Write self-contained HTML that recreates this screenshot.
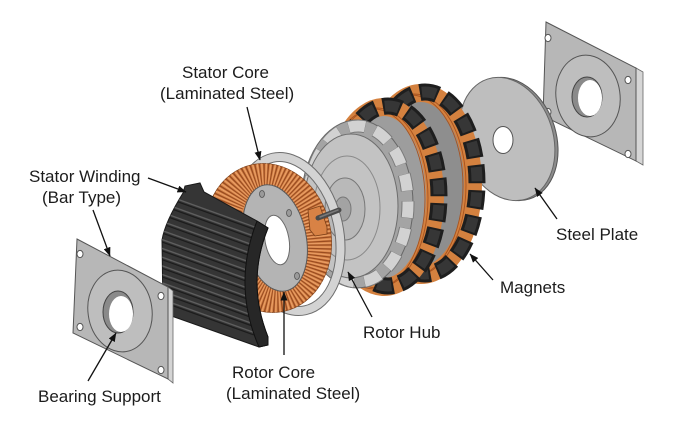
<!DOCTYPE html>
<html><head><meta charset="utf-8"><style>
html,body{margin:0;padding:0;background:#fff;}
svg{display:block;}
text{font-family:"Liberation Sans",Arial,sans-serif;font-size:17px;fill:#1c1c1c;}
</style></head><body>
<svg width="700" height="434" viewBox="0 0 700 434" xmlns="http://www.w3.org/2000/svg">
<defs>
<marker id="ah" markerWidth="9" markerHeight="7" refX="8.5" refY="3.5" orient="auto" markerUnits="userSpaceOnUse"><path d="M0,0 L9,3.5 L0,7 z" fill="#111"/></marker>
<clipPath id="cuclip"><ellipse cx="0" cy="0" rx="63" ry="75" transform="translate(268,238) rotate(-12)"/></clipPath>
<clipPath id="bclip"><path d="M183,193 L185,186 L200,183 L204,192 L257,221 L268,228 Q246,282 268,337 L268,345 L259,347 L163,313 L162,240 Q165,222 183,193 Z"/></clipPath>
</defs>
<rect width="700" height="434" fill="#fff"/>

<!-- right steel plate -->
<polygon points="546,22 636,68 643,72 643,165 636,161 543,116" fill="#8f8f8f"/>
<polygon points="636,68 643,72 643,165 636,161" fill="#d6d6d6" stroke="#666" stroke-width="0.8"/>
<polygon points="546,22 636,68 636,161 543,116" fill="#b7b7b7" stroke="#555" stroke-width="1"/>
<ellipse cx="588" cy="96" rx="32" ry="41" transform="rotate(-8 588 96)" fill="#bebebe" stroke="#555"/>
<ellipse cx="587" cy="97" rx="15" ry="20" fill="#8a8a8a" stroke="#444"/>
<ellipse cx="590" cy="98" rx="12" ry="18" fill="#fff"/>
<ellipse cx="548" cy="38" rx="3" ry="3.6" fill="#fff" stroke="#555"/>
<ellipse cx="628" cy="80" rx="3" ry="3.6" fill="#fff" stroke="#555"/>
<ellipse cx="548" cy="112" rx="3" ry="3.6" fill="#fff" stroke="#555"/>
<ellipse cx="628" cy="154" rx="3" ry="3.6" fill="#fff" stroke="#555"/>

<!-- thin steel disc -->
<g transform="translate(507,139) rotate(-18)">
<ellipse cx="3" cy="1" rx="46" ry="63" fill="#8c8c8c" stroke="#555"/>
<ellipse rx="46" ry="63" fill="#bebebe" stroke="#666"/>
</g>
<ellipse cx="503" cy="140" rx="10" ry="13.5" fill="#fff" stroke="#555"/>

<!-- rotor ring B -->
<ellipse cx="425" cy="183" rx="52" ry="91" fill="#8e8e8e" stroke="#555" stroke-width="0.8"/>
<ellipse cx="421" cy="184" rx="52" ry="91" fill="none" stroke="#d4813f" stroke-width="18"/>
<ellipse cx="414" cy="185" rx="52" ry="91" fill="none" stroke="#a8531f" stroke-width="0.9"/>
<ellipse cx="411" cy="186" rx="52" ry="91" fill="none" stroke="#a8531f" stroke-width="0.9"/>
<path d="M-52,0 A52,91 0 1,0 52,0 A52,91 0 1,0 -52,0" transform="translate(425,183)" pathLength="90" fill="none" stroke="#1e1e1e" stroke-width="17" stroke-dasharray="3.6 1.4"/>
<path d="M-52,0 A52,91 0 1,0 52,0 A52,91 0 1,0 -52,0" transform="translate(425,183)" pathLength="90" fill="none" stroke="#363636" stroke-width="11" stroke-dasharray="2.8 2.2" stroke-dashoffset="-0.4"/>

<!-- rotor ring A -->
<ellipse cx="388" cy="196" rx="51" ry="90" fill="#9d9d9d" stroke="#555" stroke-width="0.8"/>
<ellipse cx="384" cy="197" rx="51" ry="90" fill="none" stroke="#d4813f" stroke-width="18"/>
<ellipse cx="377" cy="198" rx="51" ry="90" fill="none" stroke="#a8531f" stroke-width="0.9"/>
<ellipse cx="374" cy="199" rx="51" ry="90" fill="none" stroke="#a8531f" stroke-width="0.9"/>
<path d="M-51,0 A51,90 0 1,0 51,0 A51,90 0 1,0 -51,0" transform="translate(388,196)" pathLength="90" fill="none" stroke="#1e1e1e" stroke-width="17" stroke-dasharray="3.6 1.4"/>
<path d="M-51,0 A51,90 0 1,0 51,0 A51,90 0 1,0 -51,0" transform="translate(388,196)" pathLength="90" fill="none" stroke="#363636" stroke-width="11" stroke-dasharray="2.8 2.2" stroke-dashoffset="-0.4"/>

<!-- front cylinder with light blocks -->
<ellipse cx="357" cy="204" rx="56" ry="84" fill="#a4a4a4" stroke="#666"/>
<path d="M-50,0 A50,78 0 1,0 50,0 A50,78 0 1,0 -50,0" transform="translate(358,204)" pathLength="75" fill="none" stroke="#7a7a7a" stroke-width="13" stroke-dasharray="3.1 1.9" stroke-dashoffset="0.05"/>
<path d="M-50,0 A50,78 0 1,0 50,0 A50,78 0 1,0 -50,0" transform="translate(358,204)" pathLength="75" fill="none" stroke="#d2d2d2" stroke-width="11" stroke-dasharray="3 2"/>
<!-- front disc -->
<ellipse cx="351" cy="206" rx="47" ry="72" fill="#c3c3c3" stroke="#6d6d6d"/>
<ellipse cx="347" cy="208" rx="33" ry="52" fill="none" stroke="#8a8a8a"/>
<ellipse cx="345" cy="209" rx="20" ry="31" fill="#b9b9b9" stroke="#777"/>
<ellipse cx="343" cy="209" rx="8" ry="12" fill="#a3a3a3" stroke="#777"/>

<!-- stator core flange -->
<path d="M-50,0 A50,78 0 1,0 50,0 A50,78 0 1,0 -50,0" transform="translate(289,234) rotate(-12)" fill="none" stroke="#6e6e6e" stroke-width="10"/>
<path d="M-50,0 A50,78 0 1,0 50,0 A50,78 0 1,0 -50,0" transform="translate(289,234) rotate(-12)" fill="none" stroke="#d3d3d3" stroke-width="8"/>

<!-- copper rotor core -->
<ellipse cx="0" cy="0" rx="63" ry="75" transform="translate(268,238) rotate(-12)" fill="#d9874b" stroke="#7a3f18" stroke-width="0.8"/>
<g clip-path="url(#cuclip)">
<path d="M-47,0 A47,64 0 1,0 47,0 A47,64 0 1,0 -47,0" transform="translate(271,238) rotate(-12)" pathLength="100" fill="none" stroke="#9a4c20" stroke-width="32" stroke-dasharray="0.35 0.65"/>
<path d="M-47,0 A47,64 0 1,0 47,0 A47,64 0 1,0 -47,0" transform="translate(271,238) rotate(-12)" pathLength="100" fill="none" stroke="#eea56d" stroke-width="32" stroke-dasharray="0.2 0.8" stroke-dashoffset="-0.55"/>
</g>
<ellipse cx="0" cy="0" rx="31" ry="54" transform="translate(275,238) rotate(-12)" fill="#b4b4b4" stroke="#5a5a5a"/>
<ellipse cx="0" cy="0" rx="12" ry="25" transform="translate(277,240) rotate(-10)" fill="#fff" stroke="#6a6a6a"/>
<ellipse cx="262" cy="194" rx="2.5" ry="3.5" fill="#9a9a9a" stroke="#555" stroke-width="0.8"/>
<ellipse cx="289" cy="213" rx="2.5" ry="3.5" fill="#9a9a9a" stroke="#555" stroke-width="0.8"/>
<ellipse cx="297" cy="276" rx="2.5" ry="3.5" fill="#9a9a9a" stroke="#555" stroke-width="0.8"/>
<polygon points="308,210 320,206 327,227 327,234 315,236 310,230" fill="#d88245" stroke="#7a3f18" stroke-width="0.8"/>
<line x1="318" y1="218" x2="339" y2="210" stroke="#4a4a4a" stroke-width="5" stroke-linecap="round"/>
<line x1="320" y1="217" x2="338" y2="210" stroke="#7a7a7a" stroke-width="1.5" stroke-linecap="round"/>

<!-- black bar-type winding -->
<path d="M183,193 L185,186 L200,183 L204,192 L257,221 L268,228 Q246,282 268,337 L268,345 L259,347 L163,313 L162,240 Q165,222 183,193 Z" fill="#353535" stroke="#1a1a1a" stroke-width="1"/>
<g clip-path="url(#bclip)">
<path d="M150,189.3 L254.7,227 M150,198.6 L251.8,235.3 M150,208 L249.4,243.7 M150,217.1 L247.6,252.2 M150,226.2 L246.2,260.8 M150,235.2 L245.3,269.5 M150,244 L245,278.2 M150,252.8 L245.2,287.1 M150,261.4 L245.9,296 M150,270 L247,305 M150,278.4 L248.8,314 M150,286.7 L251,323 M150,295 L253.8,332.4" stroke="#5e5e5e" stroke-width="1.4" fill="none"/>
<path transform="translate(0,2.5)" d="M150,189.3 L254.7,227 M150,198.6 L251.8,235.3 M150,208 L249.4,243.7 M150,217.1 L247.6,252.2 M150,226.2 L246.2,260.8 M150,235.2 L245.3,269.5 M150,244 L245,278.2 M150,252.8 L245.2,287.1 M150,261.4 L245.9,296 M150,270 L247,305 M150,278.4 L248.8,314 M150,286.7 L251,323 M150,295 L253.8,332.4" stroke="#1c1c1c" stroke-width="1.2" fill="none"/>
</g>
<path d="M257,221 L268,228 Q246,282 268,337 L268,345 L259,347 Q232,285 257,221 Z" fill="#272727" stroke="#111" stroke-width="1"/>

<!-- bearing support plate -->
<polygon points="77,239 168,287 173,291 173,383 168,379 73,333" fill="#8a8a8a"/>
<polygon points="168,287 173,291 173,383 168,379" fill="#d4d4d4" stroke="#666" stroke-width="0.8"/>
<polygon points="77,239 168,287 168,379 73,333" fill="#b7b7b7" stroke="#555" stroke-width="1"/>
<ellipse cx="120" cy="311" rx="32" ry="41" transform="rotate(-8 120 311)" fill="#bebebe" stroke="#555"/>
<ellipse cx="118" cy="312" rx="15" ry="21" fill="#8a8a8a" stroke="#444"/>
<ellipse cx="121" cy="314" rx="12" ry="18" fill="#fff"/>
<ellipse cx="80" cy="254" rx="3" ry="3.6" fill="#fff" stroke="#555"/>
<ellipse cx="161" cy="296" rx="3" ry="3.6" fill="#fff" stroke="#555"/>
<ellipse cx="80" cy="327" rx="3" ry="3.6" fill="#fff" stroke="#555"/>
<ellipse cx="161" cy="370" rx="3" ry="3.6" fill="#fff" stroke="#555"/>

<!-- arrows -->
<g stroke="#111" stroke-width="1.3" fill="none" marker-end="url(#ah)">
<line x1="247" y1="107" x2="260" y2="160"/>
<line x1="148" y1="178" x2="186" y2="192"/>
<line x1="93" y1="210" x2="110" y2="256"/>
<line x1="88" y1="381" x2="116" y2="333"/>
<line x1="284" y1="355" x2="284" y2="292"/>
<line x1="372" y1="317" x2="348" y2="272"/>
<line x1="493" y1="280" x2="470" y2="254"/>
<line x1="557" y1="219" x2="535" y2="188"/>
</g>

<!-- labels -->
<text x="182" y="78">Stator Core</text>
<text x="160" y="99">(Laminated Steel)</text>
<text x="29" y="182">Stator Winding</text>
<text x="42" y="203">(Bar Type)</text>
<text x="38" y="402">Bearing Support</text>
<text x="232" y="378">Rotor Core</text>
<text x="226" y="399">(Laminated Steel)</text>
<text x="363" y="338">Rotor Hub</text>
<text x="500" y="293">Magnets</text>
<text x="556" y="240">Steel Plate</text>
</svg>
</body></html>
